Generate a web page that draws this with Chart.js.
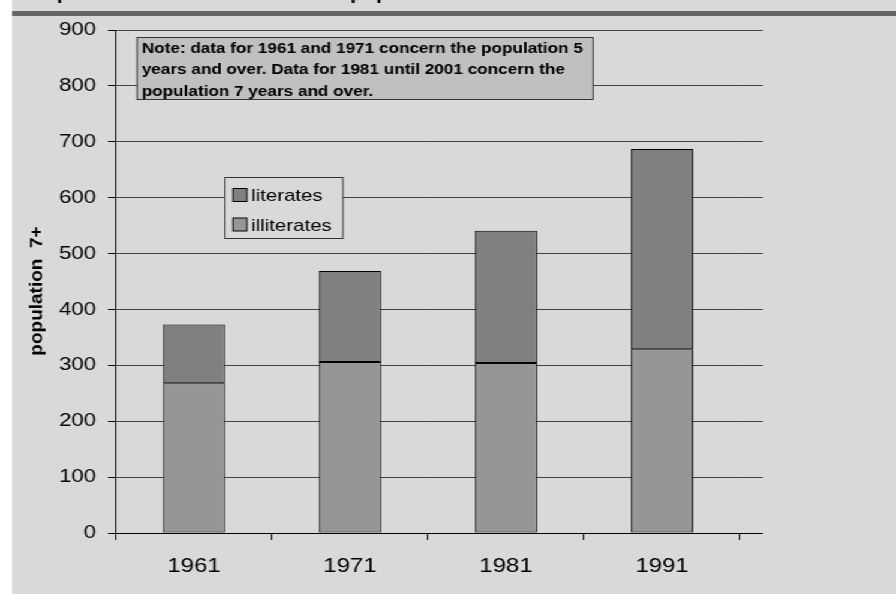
<!DOCTYPE html>
<html><head><meta charset="utf-8">
<script src="https://cdn.jsdelivr.net/npm/chart.js@4.4.1/dist/chart.umd.min.js"></script>
<style>
html,body{margin:0;padding:0;background:#fff;overflow:hidden;width:896px;height:594px;}
#stage{position:absolute;left:0;top:0;width:747px;height:594px;transform-origin:0 0;transform:scaleX(1.19946);}
#panel{position:absolute;left:10px;top:0;right:0;bottom:0;background:#d9d9d9;}
#band{position:absolute;left:10px;right:0;top:11px;height:5px;background:#666;}
#wrap{position:absolute;left:0;top:0;width:747px;height:594px;}
</style></head><body>
<div id="stage"><div id="panel"></div><div id="band"></div><div id="wrap"><canvas id="c"></canvas></div></div>
<script>
const years = ['1961', '1971', '1981', '1991'];
const illiterates = [268, 306, 304, 329];
const literates = [105, 163, 237, 358];
const yTicks = [0, 100, 200, 300, 400, 500, 600, 700, 800, 900];
const seriesNames = ['illiterates', 'literates'];
const yTitle = 'population  7+';
const chartTitle = 'Graph 1: Literates and illiterates population 7+';
const noteLines = [
  'Note: data for 1961 and 1971 concern the population 5',
  'years and over. Data for 1981 until 2001 concern the',
  'population 7 years and over.'
];

const S = 896 / 747;
const FONT = "'Liberation Sans', Arial, Helvetica, sans-serif";
const BG = '#d9d9d9';
const GRID = '#444';

function align(p) { return Math.round(p - 0.5) + 0.5; }

const decor = {
  id: 'decor',
  afterDraw(chart) {
    const { ctx, chartArea: a, scales: { y } } = chart;
    ctx.save();
    // gridline / axis extension beyond last category
    const ext = 763 / S;
    yTicks.forEach(v => {
      const py = align(y.getPixelForValue(v));
      ctx.strokeStyle = v === 0 ? '#000' : GRID;
      ctx.lineWidth = 1;
      ctx.beginPath(); ctx.moveTo(a.right, py); ctx.lineTo(ext, py); ctx.stroke();
    });
    // cut-off chart title at top
    ctx.fillStyle = '#000';
    ctx.font = 'bold 17.7px ' + FONT;
    ctx.textAlign = 'left'; ctx.textBaseline = 'alphabetic';
    ctx.fillText(chartTitle, 20 / S, -0.8);
    // y axis title
    ctx.save();
    ctx.translate(37 / S, 291);
    ctx.scale(0.78, 1);
    ctx.rotate(-Math.PI / 2);
    ctx.font = 'bold 19px ' + FONT;
    ctx.textAlign = 'center'; ctx.textBaseline = 'middle';
    ctx.fillText(yTitle, 0, 0);
    ctx.restore();
    // note box
    const nx0 = 137 / S, nx1 = 593 / S, ny0 = 37.5, ny1 = 99.5;
    ctx.fillStyle = '#c0c0c0';
    ctx.fillRect(nx0, ny0, nx1 - nx0, ny1 - ny0);
    ctx.strokeStyle = '#333'; ctx.lineWidth = 1;
    ctx.strokeRect(nx0, ny0, nx1 - nx0, ny1 - ny0);
    ctx.fillStyle = '#000';
    ctx.font = 'bold 14.3px ' + FONT;
    ctx.textAlign = 'left'; ctx.textBaseline = 'alphabetic';
    const nb = [52.5, 74, 95.5];
    noteLines.forEach((t, i) => ctx.fillText(t, 141.7 / S, nb[i]));
    // legend box
    const lx0 = 225 / S, lx1 = 343 / S, ly0 = 177.5, ly1 = 238.5;
    ctx.fillStyle = BG;
    ctx.fillRect(lx0, ly0, lx1 - lx0, ly1 - ly0);
    ctx.strokeStyle = '#333';
    ctx.strokeRect(lx0, ly0, lx1 - lx0, ly1 - ly0);
    const ds = chart.data.datasets.slice().reverse();
    const rows = [188.5, 218];
    const base = [200.5, 230.5];
    ctx.font = '17px ' + FONT;
    ds.forEach((d, i) => {
      ctx.fillStyle = d.backgroundColor;
      ctx.fillRect(233 / S, rows[i], 14 / S, 13);
      ctx.strokeStyle = '#000';
      ctx.strokeRect(233 / S, rows[i], 14 / S, 13);
      ctx.fillStyle = '#000';
      ctx.fillText(d.label, 251.3 / S, base[i]);
    });
    ctx.restore();
  }
};

new Chart(document.getElementById('c'), {
  type: 'bar',
  data: {
    labels: years,
    datasets: [
      { label: seriesNames[0], data: illiterates, backgroundColor: '#969696', borderColor: '#000', borderWidth: 1, borderSkipped: false },
      { label: seriesNames[1], data: literates, backgroundColor: '#808080', borderColor: '#000', borderWidth: 1, borderSkipped: false }
    ]
  },
  options: {
    responsive: true,
    maintainAspectRatio: false,
    animation: false,
    events: [],
    datasets: { bar: { barPercentage: 0.4, categoryPercentage: 1.0 } },
    layout: { padding: { left: 0, top: 30, right: 747 - 740 / S, bottom: 0 } },
    plugins: { legend: { display: false }, tooltip: { enabled: false }, title: { display: false } },
    scales: {
      x: {
        stacked: true,
        offset: true,
        afterFit: s => { s.height = 594 - 533; },
        grid: { display: true, drawOnChartArea: false, drawTicks: true, tickLength: 7, tickColor: '#000', offset: true },
        border: { display: true, color: '#000', width: 1 },
        ticks: { color: '#000', font: { family: FONT, size: 20 }, padding: 14, maxRotation: 0 }
      },
      y: {
        stacked: true,
        min: 0, max: 900,
        afterFit: s => { s.width = 116 / S; },
        afterBuildTicks: s => { s.ticks = yTicks.map(v => ({ value: v })); },
        grid: { color: GRID, lineWidth: 1, drawTicks: true, tickLength: 8 / S, tickColor: '#000' },
        border: { display: true, color: '#000', width: 1 },
        ticks: { color: '#000', font: { family: FONT, size: 18.5 }, padding: 10 }
      }
    }
  },
  plugins: [decor]
});
</script>
</body></html>
